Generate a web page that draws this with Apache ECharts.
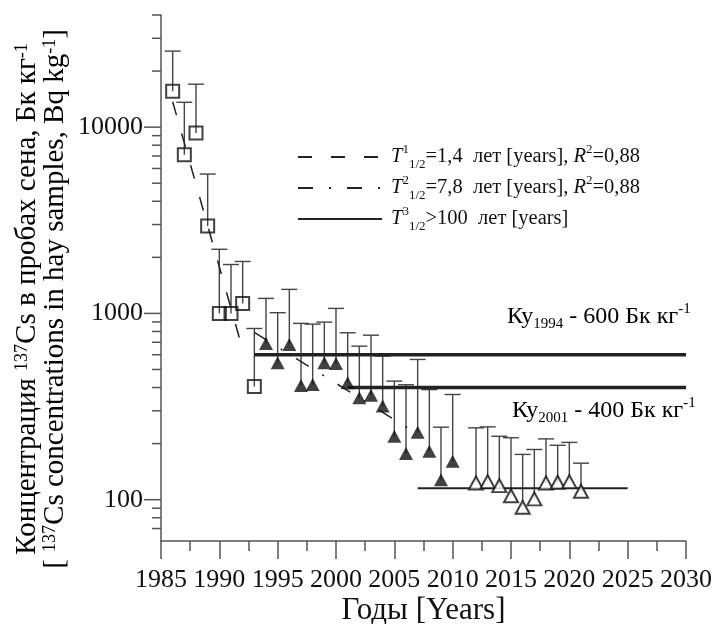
<!DOCTYPE html>
<html>
<head>
<meta charset="utf-8">
<script src="https://cdn.jsdelivr.net/npm/echarts@6/dist/echarts.min.js"></script>
<style>
  html, body { margin: 0; padding: 0; background: #fff; }
  #chart { width: 712px; height: 624px; }
</style>
</head>
<body>
<div id="chart"></div>
<script>
const FONT = '"Liberation Serif", "DejaVu Serif", serif'
const INK = '#111'
const AXIS = '#555'

// 1986-1993, open squares
const squareYears = [1986, 1987, 1988, 1989, 1990, 1991, 1992, 1993]
const squareVals = [15600, 7100, 9300, 2950, 1000, 1000, 1130, 405]
const squareUpper = [25600, 13600, 17000, 5600, 2210, 1830, 1900, 830]

// 1994-2010, filled triangles
const filledYears = [1994, 1995, 1996, 1997, 1998, 1999, 2000, 2001, 2002, 2003, 2004, 2005, 2006, 2007, 2008, 2009, 2010]
const filledVals = [690, 543, 681, 410, 415, 543, 538, 424, 352, 364, 318, 219, 177, 230, 182, 128, 161]
const filledUpper = [1204, 1009, 1346, 884, 876, 898, 1064, 787, 667, 764, 590, 433, 414, 566, 390, 245, 367]

// 2012-2021, open triangles
const openYears = [2012, 2013, 2014, 2015, 2016, 2017, 2018, 2019, 2020, 2021]
const openVals = [123, 125, 119, 105, 91, 101, 123, 124, 125, 111]
const openUpper = [243, 246, 219, 215, 175, 186, 212, 196, 203, 157]

// fitted lines (end points)
const fit1 = [[1986, 13700], [1992, 640]]
const fit2 = [[1993, 790], [2007, 225]]
const fit3 = [[2007, 115], [2025, 115]]
// control levels
const ku1994 = [[1993, 600], [2030, 600]]
const ku2001 = [[2001, 400], [2030, 400]]

const yMajorTicks = [100, 1000, 10000]
const yMinorTicks = [70, 80, 90, 200, 300, 400, 500, 600, 700, 800, 900,
  2000, 3000, 4000, 5000, 6000, 7000, 8000, 9000, 20000, 30000, 40000]

const legendNames = {
  T1: '{i|T}{sup|1}{sub|1/2}{n|=1,4  лет [years], }{i|R}{sup|2}{n|=0,88}',
  T2: '{i|T}{sup|2}{sub|1/2}{n|=7,8  лет [years], }{i|R}{sup|2}{n|=0,88}',
  T3: '{i|T}{sup|3}{sub|1/2}{n|>100  лет [years]}'
}

function rich(size, lh) {
  const small = Math.round(size * 0.62)
  return {
    n: { fontSize: size, fontFamily: FONT, color: INK, lineHeight: lh },
    i: { fontSize: size, fontFamily: FONT, color: INK, lineHeight: lh, fontStyle: 'italic' },
    sup: { fontSize: small, fontFamily: FONT, color: INK, verticalAlign: 'top' },
    sub: { fontSize: small, fontFamily: FONT, color: INK, verticalAlign: 'bottom' }
  }
}

function tickSeries(values, len) {
  return {
    type: 'custom', silent: true, clip: false, z: 1,
    data: values.map(v => [1985, v]),
    renderItem: (params, api) => {
      const p = api.coord([api.value(0), api.value(1)])
      return {
        type: 'line',
        shape: { x1: p[0] - len, y1: p[1], x2: p[0], y2: p[1] },
        style: { stroke: AXIS, lineWidth: 1.5 }
      }
    }
  }
}

function errorBars(years, vals, upper) {
  return {
    type: 'custom', silent: true, clip: false, z: 2,
    data: years.map((y, i) => [y, vals[i], upper[i]]),
    encode: { x: 0, y: [1, 2] },
    renderItem: (params, api) => {
      const lo = api.coord([api.value(0), api.value(1)])
      const hi = api.coord([api.value(0), api.value(2)])
      const st = { stroke: '#444', lineWidth: 1.4 }
      return {
        type: 'group',
        children: [
          { type: 'line', shape: { x1: lo[0], y1: lo[1], x2: hi[0], y2: hi[1] }, style: st },
          { type: 'line', shape: { x1: hi[0] - 8, y1: hi[1], x2: hi[0] + 8, y2: hi[1] }, style: st }
        ]
      }
    }
  }
}

function lineSeries(name, data, width, type) {
  return {
    name: name, type: 'line', data: data, symbol: 'none', silent: true, z: 3,
    itemStyle: { color: '#222' },
    lineStyle: { color: '#222', width: width, type: type }
  }
}

const chart = echarts.init(document.getElementById('chart'))
chart.setOption({
  animation: false,
  backgroundColor: '#fff',
  grid: { left: 161, right: 26, top: 15, bottom: 83, outerBoundsMode: 'none', containLabel: false },
  legend: {
    data: ['T1', 'T2', 'T3'],
    orient: 'vertical',
    left: 297, top: 143, padding: 0,
    itemWidth: 84, itemHeight: 14, itemGap: 3,
    selectedMode: false,
    itemStyle: { opacity: 0 },
    formatter: name => legendNames[name],
    textStyle: { rich: rich(20.5, 28), padding: [0, 0, 0, 4] }
  },
  xAxis: {
    type: 'value', min: 1985, max: 2030, interval: 5,
    axisLine: { lineStyle: { color: AXIS, width: 1.5 } },
    axisTick: { length: 18, lineStyle: { color: AXIS, width: 1.5 } },
    minorTick: { show: true, splitNumber: 2, length: 10, lineStyle: { color: AXIS, width: 1.5 } },
    splitLine: { show: false },
    axisLabel: { fontSize: 26, fontFamily: FONT, color: INK, margin: 26, formatter: v => String(v) },
    name: 'Годы [Years]', nameLocation: 'middle', nameGap: 54, nameMoveOverlap: false,
    nameTextStyle: { fontSize: 31, fontFamily: FONT, color: INK }
  },
  yAxis: {
    type: 'log', logBase: 10, min: 60, max: 40000,
    axisLine: { show: true, lineStyle: { color: AXIS, width: 1.5 } },
    axisTick: { show: false },
    splitLine: { show: false },
    axisLabel: {
      fontSize: 26, fontFamily: FONT, color: INK, margin: 18,
      showMinLabel: false, showMaxLabel: false,
      formatter: v => String(Math.round(v))
    }
  },
  graphic: [
    {
      type: 'text', x: 41, y: 299, rotation: Math.PI / 2,
      style: {
        text: '{n|Концентрация }{sup|137}{n|Cs в пробах сена, Бк кг}{sup|-1}\n' +
              '{n|[ }{sup|137}{n|Cs concentrations in hay samples, Bq kg}{sup|-1}{n|]}',
        rich: rich(29, 28), align: 'center', verticalAlign: 'middle'
      }
    },
    {
      type: 'text', x: 507, y: 317,
      style: {
        text: '{n|Ку}{sub|1994}{n| - 600 Бк кг}{sup|-1}',
        rich: rich(24, 30), align: 'left', verticalAlign: 'middle'
      }
    },
    {
      type: 'text', x: 512, y: 411,
      style: {
        text: '{n|Ку}{sub|2001}{n| - 400 Бк кг}{sup|-1}',
        rich: rich(24, 30), align: 'left', verticalAlign: 'middle'
      }
    }
  ],
  series: [
    tickSeries(yMajorTicks, 17),
    tickSeries(yMinorTicks, 9),
    errorBars(squareYears, squareVals, squareUpper),
    errorBars(filledYears, filledVals, filledUpper),
    errorBars(openYears, openVals, openUpper),
    lineSeries('T1', fit1, 1.5, [14, 19]),
    lineSeries('T2', fit2, 1.5, [15, 16, 2, 16]),
    lineSeries('T3', fit3, 2, 'solid'),
    lineSeries('ku1994', ku1994, 3.5, 'solid'),
    lineSeries('ku2001', ku2001, 3.5, 'solid'),
    {
      type: 'scatter', z: 5, silent: true, symbol: 'rect', symbolSize: 13,
      data: squareYears.map((y, i) => [y, squareVals[i]]),
      itemStyle: { color: 'rgba(0,0,0,0)', borderColor: INK, borderWidth: 2 }
    },
    {
      type: 'scatter', z: 5, silent: true, symbol: 'triangle', symbolSize: [14, 13],
      data: filledYears.map((y, i) => [y, filledVals[i]]),
      itemStyle: { color: INK }
    },
    {
      type: 'scatter', z: 5, silent: true, symbol: 'triangle', symbolSize: [14, 13],
      data: openYears.map((y, i) => [y, openVals[i]]),
      itemStyle: { color: '#fff', borderColor: INK, borderWidth: 2 }
    }
  ]
})
</script>
</body>
</html>
